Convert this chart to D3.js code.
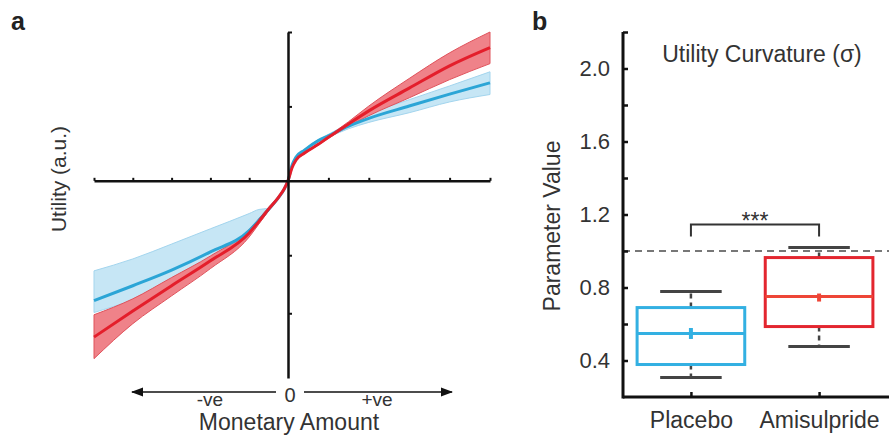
<!DOCTYPE html>
<html><head><meta charset="utf-8">
<script src="https://cdn.jsdelivr.net/npm/d3@7"></script>
<style>
html,body{margin:0;padding:0;background:#fff;}
svg{display:block;font-family:"Liberation Sans",Arial,Helvetica,sans-serif;}
</style></head><body>
<svg id="chart" width="889" height="437"></svg>
<script>
// ---------- Panel a data (utility curves) ----------
const amounts = [-5,-4,-3,-2,-1,-0.75,-0.5,-0.25,-0.1,0,0.1,0.2,0.4,0.75,1,1.5,2,3,4,5];
const placeboUtility = [-1.61,-1.41,-1.20,-0.955,-0.67,-0.53,-0.385,-0.23,-0.115,0,0.21,0.32,0.41,0.54,0.605,0.735,0.84,1.005,1.165,1.317];
const placeboUpper   = [-1.21,-1.05,-0.85,-0.645,-0.44,-0.385,-0.37,-0.22,-0.105,0,0.22,0.33,0.42,0.555,0.625,0.77,0.9,1.09,1.275,1.465];
const placeboLower   = [-1.77,-1.60,-1.38,-1.10,-0.74,-0.575,-0.40,-0.235,-0.12,0,0.2,0.31,0.40,0.525,0.585,0.70,0.785,0.915,1.06,1.16];
const amisulprideUtility = [-2.10,-1.75,-1.41,-1.075,-0.70,-0.545,-0.38,-0.225,-0.11,0,0.175,0.28,0.37,0.49,0.585,0.765,0.94,1.245,1.545,1.79];
const amisulprideUpper   = [-1.80,-1.586,-1.30,-1.01,-0.655,-0.51,-0.355,-0.21,-0.1,0,0.18,0.29,0.38,0.50,0.60,0.795,1.005,1.375,1.72,2.0];
const amisulprideLower   = [-2.39,-1.92,-1.546,-1.18,-0.755,-0.58,-0.405,-0.24,-0.12,0,0.17,0.27,0.36,0.48,0.57,0.735,0.875,1.115,1.36,1.575];
const xTicksA = [-5,-4,-3,-2,-1,1,2,3,4,5];
const yTicksA = [2,1,-1,-1.78];

// ---------- Panel b data (box plots of sigma) ----------
const groups = ["Placebo","Amisulpride"];
const whiskerLow  = [0.307,0.477];
const quartile1   = [0.378,0.586];
const medians     = [0.548,0.751];
const quartile3   = [0.69,0.964];
const whiskerHigh = [0.778,1.019];
const means       = [0.548,0.745];
const meanSE      = [0.03,0.022];
const yTicksB = [0.4,0.6,0.8,1.0,1.2,1.4,1.6,1.8,2.0,2.2];
const yTickLabelsB = ["0.4","0.8","1.2","1.6","2.0"];
const referenceValue = 1.0;
const bracketTop = 1.145, bracketLeg = 1.08, starsLevel = 1.12;

const svg = d3.select("#chart");
const textCol = "#333";

// ================= Panel a =================
const xA = d3.scaleLinear().domain([-5,0,5]).range([94,288,490]);
const yA = d3.scaleLinear().domain([-2.65,2.0]).range([378,32]);
const gA = svg.append("g");

const rowsP = amounts.map((x,i)=>({x, m:placeboUtility[i], lo:placeboLower[i], hi:placeboUpper[i]}));
const rowsA = amounts.map((x,i)=>({x, m:amisulprideUtility[i], lo:amisulprideLower[i], hi:amisulprideUpper[i]}));

const area = d3.area().x(d=>xA(d.x)).y0(d=>yA(d.lo)).y1(d=>yA(d.hi)).curve(d3.curveMonotoneX);
const line = d3.line().x(d=>xA(d.x)).y(d=>yA(d.m)).curve(d3.curveMonotoneX);

gA.append("path").attr("d",area(rowsP)).attr("fill","#c6e6f5").attr("stroke","#a3d5ee").attr("stroke-width",1);
gA.append("path").attr("d",area(rowsA)).attr("fill","#ef8289").attr("stroke","#e0525b").attr("stroke-width",1);
gA.append("path").attr("d",line(rowsP)).attr("fill","none").attr("stroke","#2ba5d6").attr("stroke-width",3);
gA.append("path").attr("d",line(rowsA)).attr("fill","none").attr("stroke","#e41e2b").attr("stroke-width",3);

// axes through origin
const xAxisA = gA.append("g").attr("transform",`translate(0,${yA(0)})`)
  .call(d3.axisTop(xA).tickValues(xTicksA).tickSize(3).tickSizeOuter(0).tickFormat(""));
const yAxisA = gA.append("g").attr("transform",`translate(${xA(0)},0)`)
  .call(d3.axisRight(yA).tickValues(yTicksA).tickSize(4).tickSizeOuter(0).tickFormat(""));
[xAxisA,yAxisA].forEach(ax=>{
  ax.select(".domain").attr("stroke","#111").attr("stroke-width",2.5);
  ax.selectAll(".tick line").attr("stroke","#111").attr("stroke-width",2);
});

// monetary arrows
const arrowY = 392;
svg.append("defs").html(
  '<marker id="ah" viewBox="0 0 12 10" refX="11" refY="5" markerWidth="13" markerHeight="10" markerUnits="userSpaceOnUse" orient="auto"><path d="M0,0.5 L12,5 L0,9.5 Z" fill="#111"/></marker>');
gA.append("line").attr("x1",276).attr("x2",132).attr("y1",arrowY).attr("y2",arrowY)
  .attr("stroke","#111").attr("stroke-width",1.6).attr("marker-end","url(#ah)");
gA.append("line").attr("x1",304).attr("x2",452).attr("y1",arrowY).attr("y2",arrowY)
  .attr("stroke","#111").attr("stroke-width",1.6).attr("marker-end","url(#ah)");
gA.append("text").attr("x",290).attr("y",402).attr("text-anchor","middle").attr("font-size",20).attr("fill",textCol).text("0");
gA.append("text").attr("x",210).attr("y",406).attr("text-anchor","middle").attr("font-size",19).attr("fill",textCol).text("-ve");
gA.append("text").attr("x",377).attr("y",406).attr("text-anchor","middle").attr("font-size",19).attr("fill",textCol).text("+ve");
gA.append("text").attr("x",289).attr("y",430).attr("text-anchor","middle").attr("font-size",23).attr("fill",textCol).text("Monetary Amount");
gA.append("text").attr("transform","translate(66,179) rotate(-90)").attr("text-anchor","middle").attr("font-size",21).attr("fill",textCol).text("Utility (a.u.)");
gA.append("text").attr("x",11).attr("y",30).attr("font-size",25).attr("font-weight","bold").attr("fill","#222").text("a");

// ================= Panel b =================
const xB = d3.scalePoint().domain(groups).range([623,887]).padding(0.53);
const yB = d3.scaleLinear().domain([0.2,2.2]).range([397,32]);
const gB = svg.append("g");
const step = xB.step();
const boxW = step*0.84, capW = step*0.48;

// reference dashed line
gB.append("line").attr("x1",623).attr("x2",889).attr("y1",yB(referenceValue)).attr("y2",yB(referenceValue))
  .attr("stroke","#777").attr("stroke-width",2).attr("stroke-dasharray","7,5");

const boxCols = ["#33b0e2","#e3262f"];
const medCols = ["#33b0e2","#ee4637"];
groups.forEach((g,i)=>{
  const cx = xB(g);
  const wc = "#444";
  gB.append("line").attr("x1",cx).attr("x2",cx).attr("y1",yB(quartile3[i])).attr("y2",yB(whiskerHigh[i]))
    .attr("stroke",wc).attr("stroke-width",2.5).attr("stroke-dasharray","5,4");
  gB.append("line").attr("x1",cx).attr("x2",cx).attr("y1",yB(quartile1[i])).attr("y2",yB(whiskerLow[i]))
    .attr("stroke",wc).attr("stroke-width",2.5).attr("stroke-dasharray","5,4");
  [whiskerHigh[i],whiskerLow[i]].forEach(v=>{
    gB.append("line").attr("x1",cx-capW/2).attr("x2",cx+capW/2).attr("y1",yB(v)).attr("y2",yB(v))
      .attr("stroke",wc).attr("stroke-width",3);
  });
  gB.append("rect").attr("x",cx-boxW/2).attr("width",boxW)
    .attr("y",yB(quartile3[i])).attr("height",yB(quartile1[i])-yB(quartile3[i]))
    .attr("fill","none").attr("stroke",boxCols[i]).attr("stroke-width",3);
  gB.append("line").attr("x1",cx-boxW/2).attr("x2",cx+boxW/2).attr("y1",yB(medians[i])).attr("y2",yB(medians[i]))
    .attr("stroke",medCols[i]).attr("stroke-width",3);
  gB.append("line").attr("x1",cx).attr("x2",cx).attr("y1",yB(means[i]+meanSE[i])).attr("y2",yB(means[i]-meanSE[i]))
    .attr("stroke",medCols[i]).attr("stroke-width",4);
});

// significance bracket
const bx1 = xB(groups[0]), bx2 = xB(groups[1]);
gB.append("path").attr("d",`M${bx1},${yB(bracketLeg)}V${yB(bracketTop)}H${bx2}V${yB(bracketLeg)}`)
  .attr("fill","none").attr("stroke","#333").attr("stroke-width",2);
gB.append("text").attr("x",(bx1+bx2)/2).attr("y",yB(starsLevel)).attr("text-anchor","middle")
  .attr("font-size",23).attr("fill","#333").text("***");

// axes
const yAxisB = gB.append("g").attr("transform","translate(623,0)")
  .call(d3.axisLeft(yB).tickValues(yTicksB).tickSize(-5).tickSizeOuter(0).tickPadding(13)
    .tickFormat(d=>{const s=d.toFixed(1); return yTickLabelsB.includes(s)?s:"";}));
const xAxisB = gB.append("g").attr("transform","translate(0,397)")
  .call(d3.axisBottom(xB).tickSize(-5).tickSizeOuter(0).tickPadding(15));
[yAxisB,xAxisB].forEach(ax=>{
  ax.select(".domain").attr("stroke","#111").attr("stroke-width",3);
  ax.selectAll(".tick line").attr("stroke","#111").attr("stroke-width",2.5);
  ax.selectAll(".tick text").attr("fill",textCol).attr("font-size",22).attr("font-family","Liberation Sans, Arial, sans-serif");
});
xAxisB.selectAll(".tick text").attr("font-size",23);
xAxisB.select(".domain").attr("d","M623,0H889");
yAxisB.select(".domain").attr("d","M0,32V398.5");

gB.append("text").attr("x",762).attr("y",62).attr("text-anchor","middle").attr("font-size",23).attr("fill",textCol).text("Utility Curvature (σ)");
gB.append("text").attr("transform","translate(560,226) rotate(-90)").attr("text-anchor","middle").attr("font-size",23).attr("fill",textCol).text("Parameter Value");
gB.append("text").attr("x",532).attr("y",30).attr("font-size",25).attr("font-weight","bold").attr("fill","#222").text("b");
</script>
</body></html>
